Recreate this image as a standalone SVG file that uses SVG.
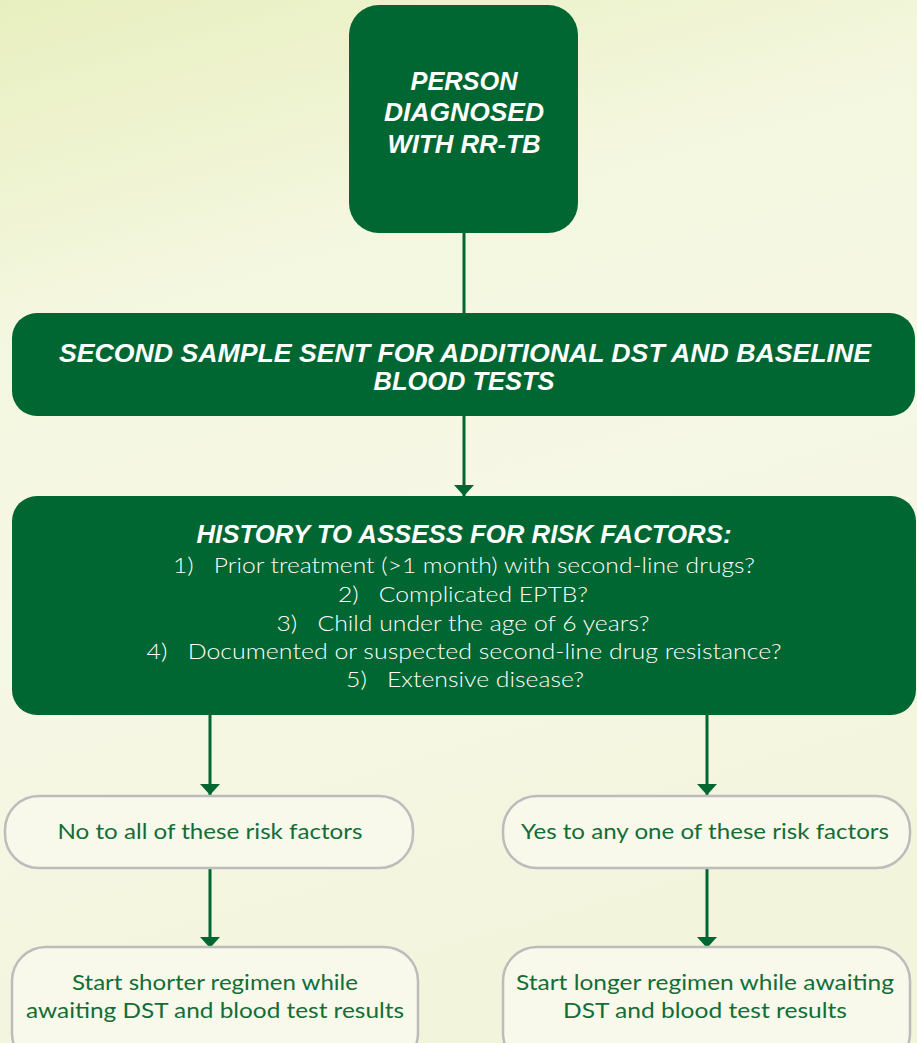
<svg xmlns="http://www.w3.org/2000/svg" width="917" height="1043" viewBox="0 0 917 1043">
<defs>
<linearGradient id="bg" x1="0" y1="0" x2="0.25" y2="1">
<stop offset="0" stop-color="#e8efbf"/>
<stop offset="0.3" stop-color="#f4f7df"/>
<stop offset="0.6" stop-color="#f6f8e6"/>
<stop offset="1" stop-color="#f2f4dc"/>
</linearGradient>
<marker id="ah" markerWidth="11" markerHeight="20" refX="11" refY="10" orient="auto" markerUnits="userSpaceOnUse" viewBox="0 0 11 20">
<path d="M0,0 L11,10 L0,20 Z" fill="#006632"/>
</marker>
<style>
.dark{fill:#006632;}
.light{fill:#f8f9ea;stroke:#bcbcbc;stroke-width:2.5;}
.hd{font-family:"Liberation Sans",Arial,sans-serif;font-weight:bold;font-style:italic;font-size:25px;fill:#ffffff;text-anchor:middle;}
.ls{font-family:Lato,"Liberation Sans",sans-serif;font-weight:300;font-size:21px;fill:#ffffff;text-anchor:middle;}
.lt{font-family:Lato,"Liberation Sans",sans-serif;font-weight:400;font-size:21px;fill:#136d37;text-anchor:middle;}
.con{stroke:#006632;stroke-width:3;fill:none;}
</style>
</defs>
<rect x="0" y="0" width="917" height="1043" fill="url(#bg)"/>
<g id="connectors">
<line class="con" x1="464" y1="232" x2="464" y2="314"/>
<line class="con" x1="464" y1="415" x2="464" y2="496" marker-end="url(#ah)"/>
<line class="con" x1="210" y1="714" x2="210" y2="795" marker-end="url(#ah)"/>
<line class="con" x1="707" y1="714" x2="707" y2="795" marker-end="url(#ah)"/>
<line class="con" x1="210" y1="869" x2="210" y2="948" marker-end="url(#ah)"/>
<line class="con" x1="707" y1="869" x2="707" y2="948" marker-end="url(#ah)"/>
</g>
<g id="n1">
<rect class="dark" x="349" y="5" width="229" height="228" rx="30"/>
<text class="hd" x="464" y="90" textLength="107" lengthAdjust="spacingAndGlyphs">PERSON</text>
<text class="hd" x="464" y="121" textLength="160" lengthAdjust="spacingAndGlyphs">DIAGNOSED</text>
<text class="hd" x="464" y="153" textLength="153" lengthAdjust="spacingAndGlyphs">WITH RR-TB</text>
</g>
<g id="n2">
<rect class="dark" x="12" y="313" width="903" height="103" rx="25"/>
<text class="hd" x="465" y="362" textLength="812" lengthAdjust="spacingAndGlyphs">SECOND SAMPLE SENT FOR ADDITIONAL DST AND BASELINE</text>
<text class="hd" x="464" y="390" textLength="181" lengthAdjust="spacingAndGlyphs">BLOOD TESTS</text>
</g>
<g id="n3">
<rect class="dark" x="12" y="496" width="904" height="219" rx="25"/>
<text class="hd" x="464" y="543" textLength="535" lengthAdjust="spacingAndGlyphs">HISTORY TO ASSESS FOR RISK FACTORS:</text>
<text class="ls" x="464" y="573" xml:space="preserve" textLength="582" lengthAdjust="spacingAndGlyphs">1)   Prior treatment (&gt;1 month) with second-line drugs?</text>
<text class="ls" x="463" y="602" xml:space="preserve" textLength="250" lengthAdjust="spacingAndGlyphs">2)   Complicated EPTB?</text>
<text class="ls" x="463" y="631" xml:space="preserve" textLength="373" lengthAdjust="spacingAndGlyphs">3)   Child under the age of 6 years?</text>
<text class="ls" x="464" y="659" xml:space="preserve" textLength="635" lengthAdjust="spacingAndGlyphs">4)   Documented or suspected second-line drug resistance?</text>
<text class="ls" x="465" y="687" xml:space="preserve" textLength="238" lengthAdjust="spacingAndGlyphs">5)   Extensive disease?</text>
</g>
<g id="n4">
<rect class="light" x="5" y="796" width="408" height="72" rx="34"/>
<text class="lt" x="210" y="839" textLength="305" lengthAdjust="spacingAndGlyphs">No to all of these risk factors</text>
</g>
<g id="n5">
<rect class="light" x="503" y="796" width="407" height="72" rx="34"/>
<text class="lt" x="705" y="839" textLength="368" lengthAdjust="spacingAndGlyphs">Yes to any one of these risk factors</text>
</g>
<g id="n6">
<rect class="light" x="12" y="947" width="406" height="120" rx="34"/>
<text class="lt" x="215" y="990" textLength="286" lengthAdjust="spacingAndGlyphs">Start shorter regimen while</text>
<text class="lt" x="215" y="1018" textLength="378" lengthAdjust="spacingAndGlyphs">awaiting DST and blood test results</text>
</g>
<g id="n7">
<rect class="light" x="503" y="947" width="407" height="120" rx="34"/>
<text class="lt" x="705" y="990" textLength="378" lengthAdjust="spacingAndGlyphs">Start longer regimen while awaiting</text>
<text class="lt" x="705" y="1018" textLength="284" lengthAdjust="spacingAndGlyphs">DST and blood test results</text>
</g>
</svg>
